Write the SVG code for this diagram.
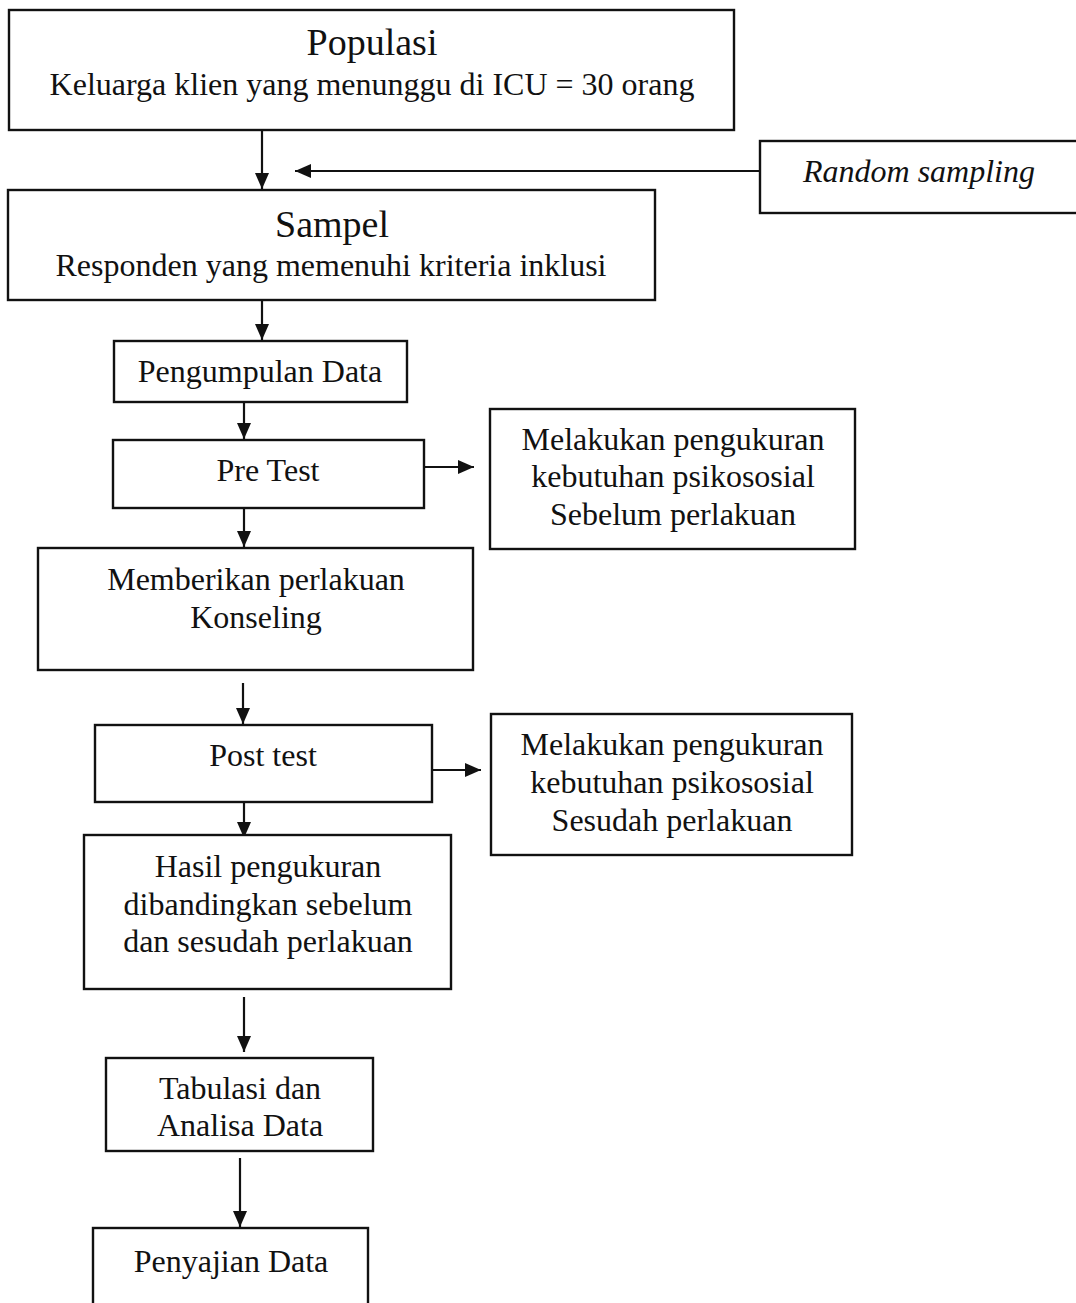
<svg xmlns="http://www.w3.org/2000/svg" width="1076" height="1303" viewBox="0 0 1076 1303">
<defs>
<style>
.box{fill:#fff;stroke:#111;stroke-width:2.4}
.t{font-family:"Liberation Serif","Times New Roman",serif;font-size:32px;fill:#111;text-anchor:middle}
.h{font-size:38px}
.i{font-style:italic}
.c{stroke:#111;stroke-width:2.2;fill:none}
</style>
<marker id="ah" viewBox="0 0 16 14" refX="16" refY="7" markerWidth="16" markerHeight="14" markerUnits="userSpaceOnUse" orient="auto">
<path d="M0,0 L16,7 L0,14 Z" fill="#111"/>
</marker>
</defs>
<rect width="1076" height="1303" fill="#fff"/>
<g id="connectors">
<line class="c" x1="262" y1="130" x2="262" y2="189" marker-end="url(#ah)"/>
<line class="c" x1="760" y1="171" x2="295" y2="171" marker-end="url(#ah)"/>
<line class="c" x1="262" y1="300" x2="262" y2="340" marker-end="url(#ah)"/>
<line class="c" x1="244" y1="402" x2="244" y2="439" marker-end="url(#ah)"/>
<line class="c" x1="244" y1="508" x2="244" y2="547" marker-end="url(#ah)"/>
<line class="c" x1="424" y1="467" x2="474" y2="467" marker-end="url(#ah)"/>
<line class="c" x1="243" y1="683" x2="243" y2="724" marker-end="url(#ah)"/>
<line class="c" x1="432" y1="770" x2="481" y2="770" marker-end="url(#ah)"/>
<line class="c" x1="244" y1="797" x2="244" y2="838" marker-end="url(#ah)"/>
<line class="c" x1="244" y1="997" x2="244" y2="1052" marker-end="url(#ah)"/>
<line class="c" x1="240" y1="1158" x2="240" y2="1227" marker-end="url(#ah)"/>
</g>
<g id="populasi">
<rect class="box" x="9" y="10" width="725" height="120"/>
<text class="t h" x="372" y="55">Populasi</text>
<text class="t" x="372" y="95">Keluarga klien yang menunggu di ICU = 30 orang</text>
</g>
<g id="random-sampling">
<rect class="box" x="760" y="141" width="320" height="72"/>
<text class="t i" x="919" y="182">Random sampling</text>
</g>
<g id="sampel">
<rect class="box" x="8" y="190" width="647" height="110"/>
<text class="t h" x="332" y="237">Sampel</text>
<text class="t" x="331" y="276">Responden yang memenuhi kriteria inklusi</text>
</g>
<g id="pengumpulan">
<rect class="box" x="114" y="341" width="293" height="61"/>
<text class="t" x="260" y="382">Pengumpulan Data</text>
</g>
<g id="pretest">
<rect class="box" x="113" y="440" width="311" height="68"/>
<text class="t" x="268" y="481">Pre Test</text>
</g>
<g id="ukur-sebelum">
<rect class="box" x="490" y="409" width="365" height="140"/>
<text class="t" x="673" y="450">Melakukan pengukuran</text>
<text class="t" x="673" y="487">kebutuhan psikososial</text>
<text class="t" x="673" y="525">Sebelum perlakuan</text>
</g>
<g id="perlakuan">
<rect class="box" x="38" y="548" width="435" height="122"/>
<text class="t" x="256" y="590">Memberikan perlakuan</text>
<text class="t" x="256" y="628">Konseling</text>
</g>
<g id="posttest">
<rect class="box" x="95" y="725" width="337" height="77"/>
<text class="t" x="263" y="766">Post test</text>
</g>
<g id="ukur-sesudah">
<rect class="box" x="491" y="714" width="361" height="141"/>
<text class="t" x="672" y="755">Melakukan pengukuran</text>
<text class="t" x="672" y="793">kebutuhan psikososial</text>
<text class="t" x="672" y="831">Sesudah perlakuan</text>
</g>
<g id="hasil">
<rect class="box" x="84" y="835" width="367" height="154"/>
<text class="t" x="268" y="877">Hasil pengukuran</text>
<text class="t" x="268" y="915">dibandingkan sebelum</text>
<text class="t" x="268" y="952">dan sesudah perlakuan</text>
</g>
<g id="tabulasi">
<rect class="box" x="106" y="1058" width="267" height="93"/>
<text class="t" x="240" y="1099">Tabulasi dan</text>
<text class="t" x="240" y="1136">Analisa Data</text>
</g>
<g id="penyajian">
<rect class="box" x="93" y="1228" width="275" height="90"/>
<text class="t" x="231" y="1272">Penyajian Data</text>
</g>
</svg>
